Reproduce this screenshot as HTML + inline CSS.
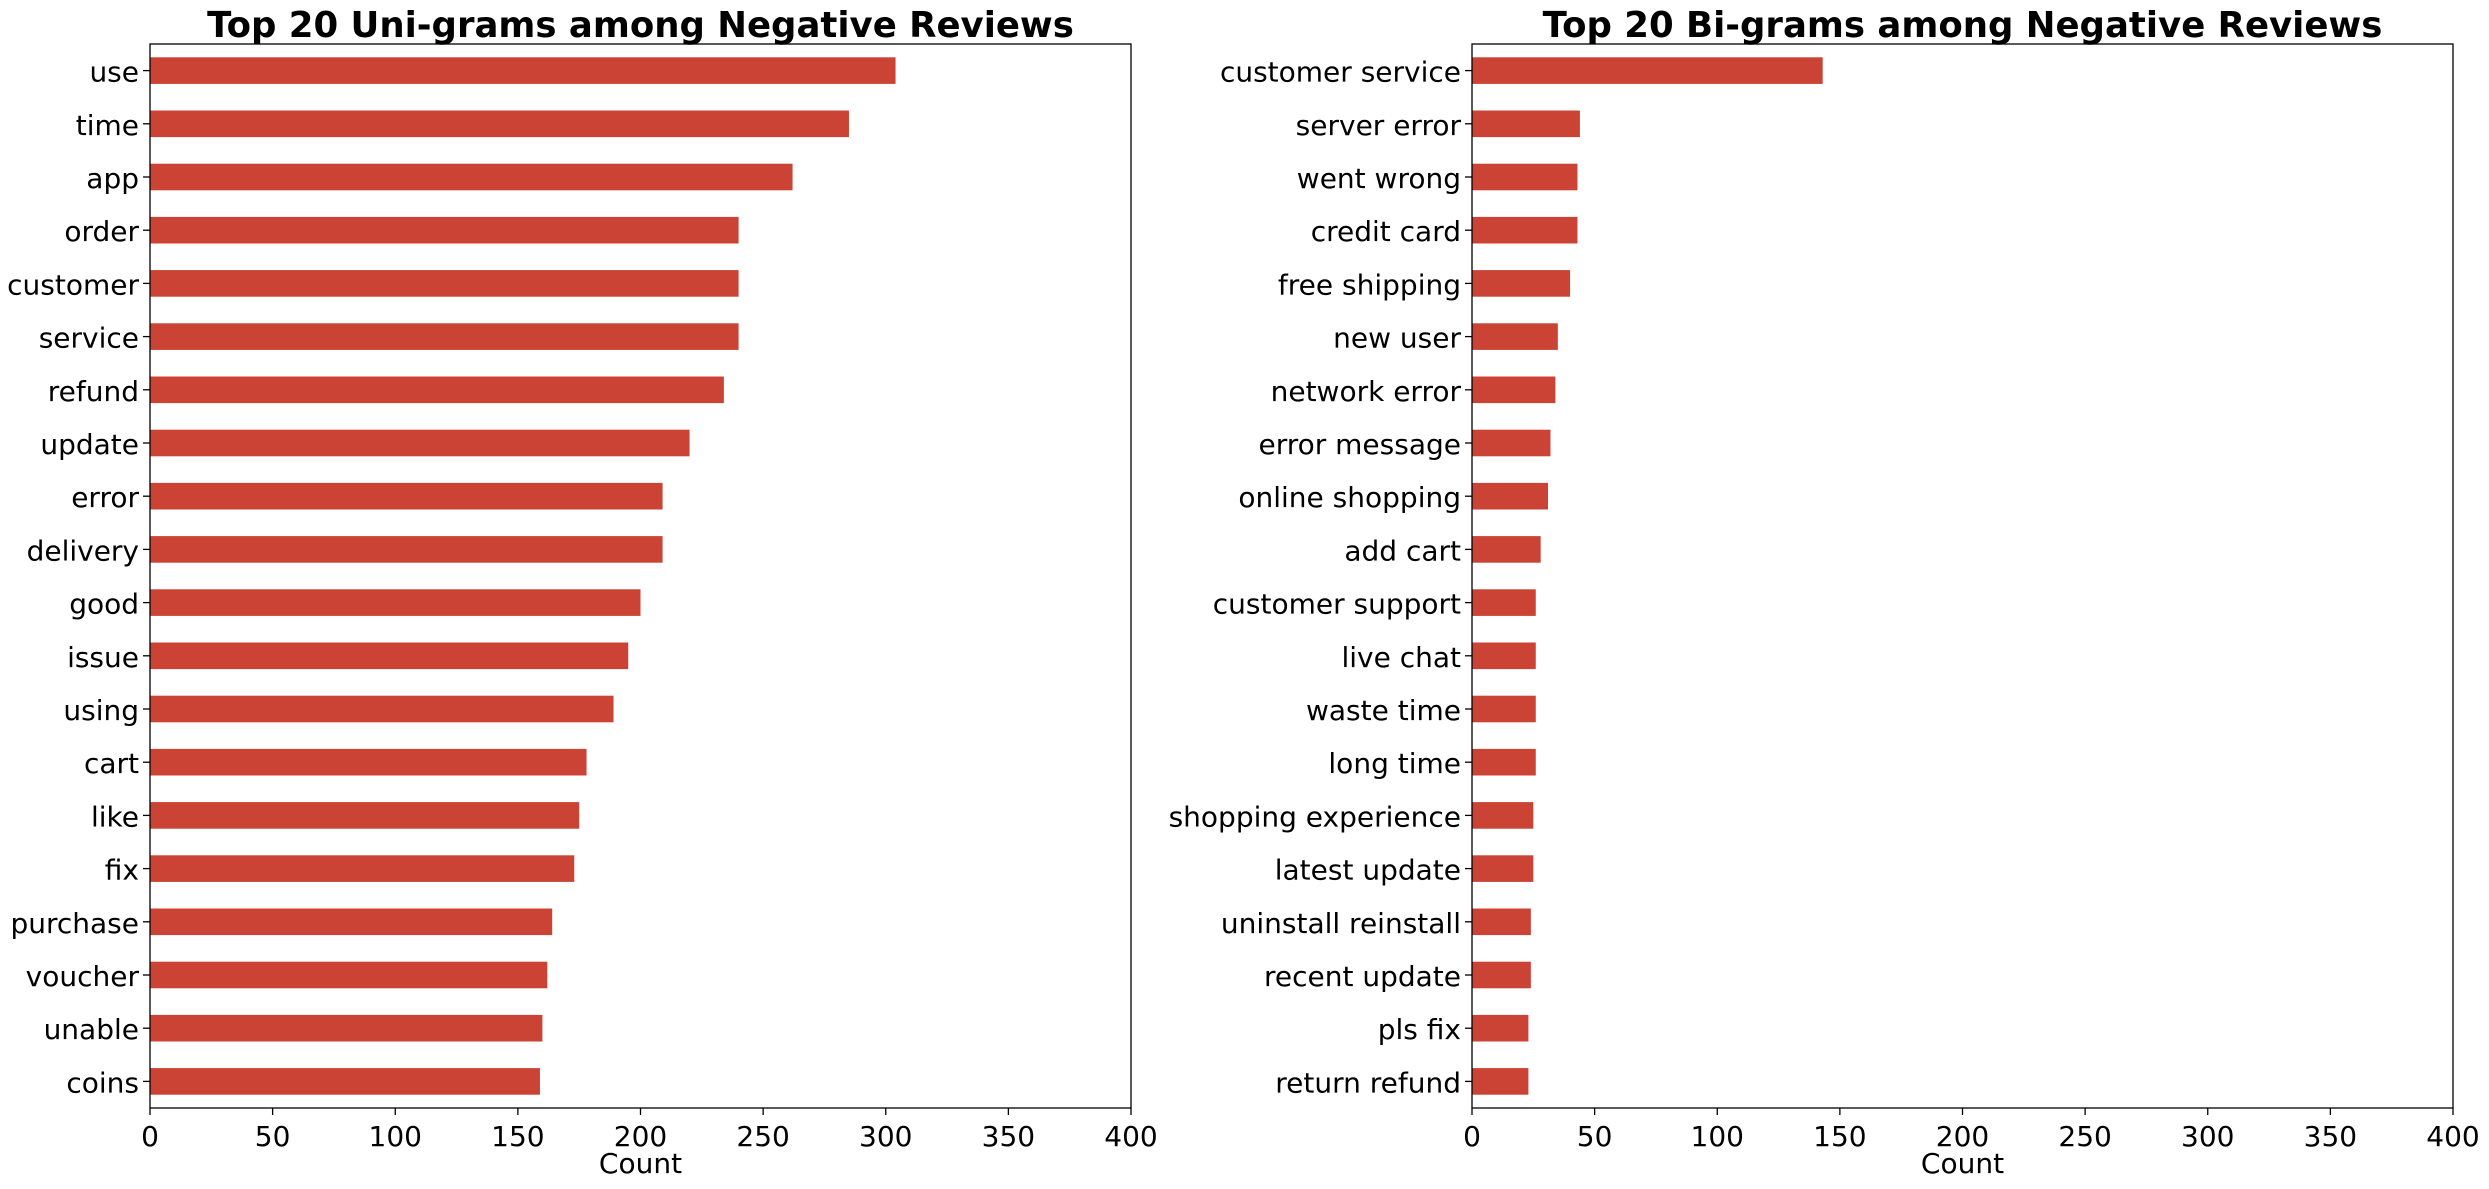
<!DOCTYPE html>
<html><head><meta charset="utf-8"><style>
html,body{margin:0;padding:0;background:#fff;}
svg{display:block;font-family:"DejaVu Sans","Liberation Sans",sans-serif;}
</style></head><body>
<svg id="chart" width="2489" height="1189" viewBox="0 0 2489 1189" xmlns="http://www.w3.org/2000/svg"></svg>
<script>
const uniLabels = ["use","time","app","order","customer","service","refund","update","error","delivery","good","issue","using","cart","like","fix","purchase","voucher","unable","coins"];
const uniValues = [304,285,262,240,240,240,234,220,209,209,200,195,189,178,175,173,164,162,160,159];
const biLabels = ["customer service","server error","went wrong","credit card","free shipping","new user","network error","error message","online shopping","add cart","customer support","live chat","waste time","long time","shopping experience","latest update","uninstall reinstall","recent update","pls fix","return refund"];
const biValues = [143,44,43,43,40,35,34,32,31,28,26,26,26,26,25,25,24,24,23,23];
const xTicks = [0,50,100,150,200,250,300,350,400];
const NS = "http://www.w3.org/2000/svg";
const svg = document.getElementById("chart");
function mk(tag, attrs, parent){const e=document.createElementNS(NS,tag);for(const k in attrs)e.setAttribute(k,attrs[k]);(parent||svg).appendChild(e);return e;}

function panel(x0, title, labels, values, key){
  const top=44,bottom=1108,w=981,xmax=400;
  const g=mk("g",{});
  
  
  const xs=v=>x0+v/xmax*w;
  const n=labels.length, step=(bottom-top)/n;
  const yc=i=>top+step*(i+0.5);
  labels.forEach((lab,i)=>{
    const r=mk("rect",{x:xs(0),y:yc(i)-step*0.25,width:xs(values[i])-xs(0),height:step*0.5,fill:"#cb4335"},g);
    
    
    mk("line",{x1:x0-7,x2:x0,y1:yc(i),y2:yc(i),stroke:"#000","stroke-width":1.3},g);
    const t=mk("text",{x:x0-11,y:yc(i)+11,"text-anchor":"end","font-size":28},g);
    t.textContent=lab;
    
    
  });
  xTicks.forEach(v=>{
    mk("line",{x1:xs(v),x2:xs(v),y1:bottom,y2:bottom+7,stroke:"#000","stroke-width":1.3},g);
    const t=mk("text",{x:xs(v),y:bottom+38,"text-anchor":"middle","font-size":28},g);
    t.textContent=v;
    
    
  });
  const f=mk("rect",{x:x0,y:top,width:w,height:bottom-top,fill:"none",stroke:"#000","stroke-width":1.3},g);
  
  
  const xl=mk("text",{x:x0+w/2,y:1173,"text-anchor":"middle","font-size":28},g);
  xl.textContent="Count";
  
  
  const tt=mk("text",{x:x0+w/2,y:37,"text-anchor":"middle","font-size":35.5,"font-weight":"bold"},g);
  tt.textContent=title;
  
  
}
panel(150,"Top 20 Uni-grams among Negative Reviews",uniLabels,uniValues,"unigram");
panel(1472,"Top 20 Bi-grams among Negative Reviews",biLabels,biValues,"bigram");
</script>
</body></html>
